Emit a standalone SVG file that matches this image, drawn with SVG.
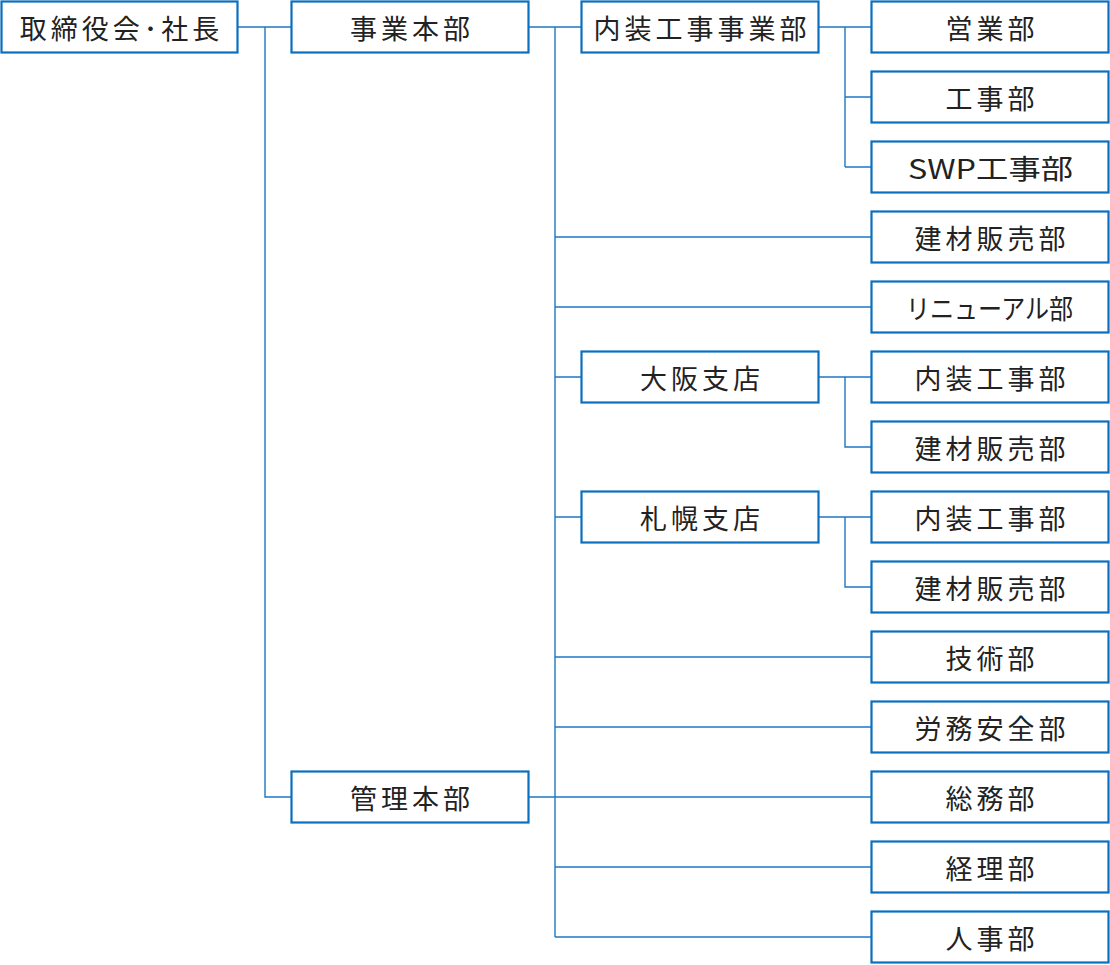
<svg xmlns="http://www.w3.org/2000/svg" width="1110" height="965" viewBox="0 0 1110 965">
<style>
.b{fill:#fff;stroke:#0a6fbf;stroke-width:2.2}
.t{font-family:"Noto Sans CJK JP","Noto Sans",sans-serif;font-size:27px;letter-spacing:4px;fill:#222;text-anchor:middle;dominant-baseline:central}
.c{fill:none;stroke:#1f77c2;stroke-width:1.4}
</style>
<rect width="1110" height="965" fill="#fff"/>
<g id="connectors" class="c">
<path d="M238,27H291M265,27V797H291"/>
<path d="M529,27H581M555,27V937"/>
<path d="M555,237H871M555,307H871M555,377H581M555,517H581M555,657H871M555,727H871M529,797H871M555,867H871M555,937H871"/>
<path d="M819,27H871M845,27V167M845,97H871M845,167H871"/>
<path d="M819,377H871M845,377V447H871"/>
<path d="M819,517H871M845,517V587H871"/>
</g>
<g id="n1"><rect class="b" x="1.5" y="1.5" width="236" height="51"/><text class="t" x="121.5" y="27">取締役会･社長</text></g>
<g id="n2"><rect class="b" x="291.5" y="1.5" width="237" height="51"/><text class="t" x="412" y="27">事業本部</text></g>
<g id="n3"><rect class="b" x="291.5" y="771.5" width="237" height="51"/><text class="t" x="412" y="797">管理本部</text></g>
<g id="n4"><rect class="b" x="581.5" y="1.5" width="237" height="51"/><text class="t" x="702" y="27">内装工事事業部</text></g>
<g id="n5"><rect class="b" x="581.5" y="351.5" width="237" height="51"/><text class="t" x="702" y="377">大阪支店</text></g>
<g id="n6"><rect class="b" x="581.5" y="491.5" width="237" height="51"/><text class="t" x="702" y="517">札幌支店</text></g>
<g id="n7"><rect class="b" x="871.5" y="1.5" width="237" height="51"/><text class="t" x="992" y="27">営業部</text></g>
<g id="n8"><rect class="b" x="871.5" y="71.5" width="237" height="51"/><text class="t" x="992" y="97">工事部</text></g>
<g id="n9"><rect class="b" x="871.5" y="141.5" width="237" height="51"/><text class="t" x="990.5" y="167" textLength="165" lengthAdjust="spacingAndGlyphs" style="letter-spacing:0">SWP工事部</text></g>
<g id="n10"><rect class="b" x="871.5" y="211.5" width="237" height="51"/><text class="t" x="992" y="237">建材販売部</text></g>
<g id="n11"><rect class="b" x="871.5" y="281.5" width="237" height="51"/><text class="t" x="989.5" y="307" textLength="167" lengthAdjust="spacingAndGlyphs" style="letter-spacing:0">リニューアル部</text></g>
<g id="n12"><rect class="b" x="871.5" y="351.5" width="237" height="51"/><text class="t" x="992" y="377">内装工事部</text></g>
<g id="n13"><rect class="b" x="871.5" y="421.5" width="237" height="51"/><text class="t" x="992" y="447">建材販売部</text></g>
<g id="n14"><rect class="b" x="871.5" y="491.5" width="237" height="51"/><text class="t" x="992" y="517">内装工事部</text></g>
<g id="n15"><rect class="b" x="871.5" y="561.5" width="237" height="51"/><text class="t" x="992" y="587">建材販売部</text></g>
<g id="n16"><rect class="b" x="871.5" y="631.5" width="237" height="51"/><text class="t" x="992" y="657">技術部</text></g>
<g id="n17"><rect class="b" x="871.5" y="701.5" width="237" height="51"/><text class="t" x="992" y="727">労務安全部</text></g>
<g id="n18"><rect class="b" x="871.5" y="771.5" width="237" height="51"/><text class="t" x="992" y="797">総務部</text></g>
<g id="n19"><rect class="b" x="871.5" y="841.5" width="237" height="51"/><text class="t" x="992" y="867">経理部</text></g>
<g id="n20"><rect class="b" x="871.5" y="911.5" width="237" height="51"/><text class="t" x="992" y="937">人事部</text></g>
</svg>
